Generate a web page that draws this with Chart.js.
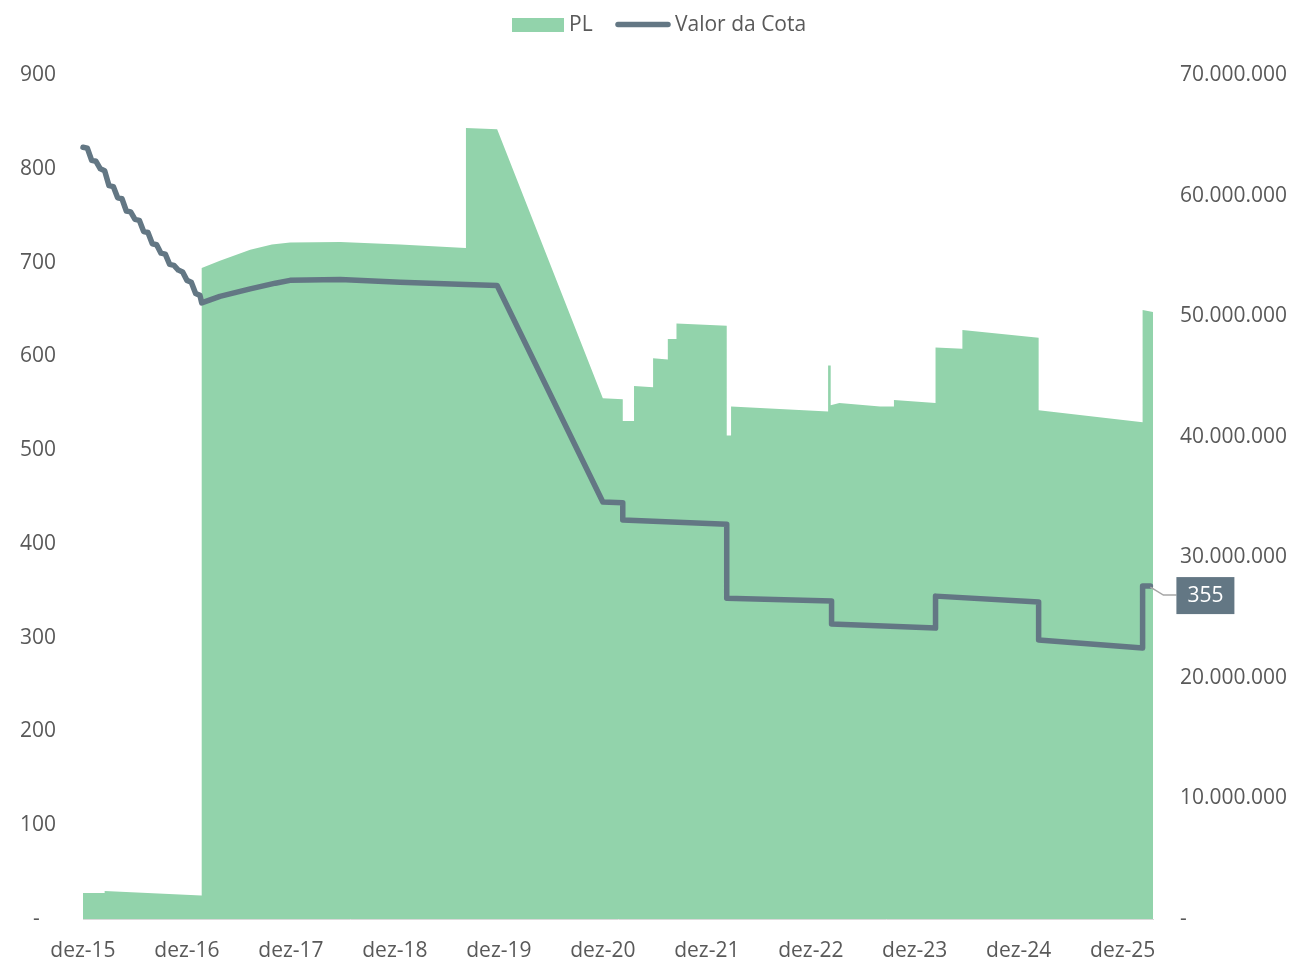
<!DOCTYPE html>
<html>
<head>
<meta charset="utf-8">
<script src="https://cdn.jsdelivr.net/npm/chart.js@4.4.1/dist/chart.umd.min.js"></script>
<style>
  body { margin: 0; background: #fff; }
</style>
</head>
<body>
<canvas id="myChart" width="1296" height="960"></canvas>
<script>
// eixo x: meses desde dez-15
const xTickMonths = [0, 12, 24, 36, 48, 60, 72, 84, 96, 108, 120];
const xTickLabels = ["dez-15", "dez-16", "dez-17", "dez-18", "dez-19", "dez-20", "dez-21", "dez-22", "dez-23", "dez-24", "dez-25"];

// PL (em milhoes de R$)
const plMonths = [0, 2.5, 2.5, 13.65, 13.7, 15.8, 19.3, 21.8, 23.9, 29.7, 36.6, 44.15, 44.2, 47.8, 60.0,
  62.3, 62.3, 63.6, 63.6, 65.8, 65.8, 67.5, 67.5, 68.5, 68.5, 74.3, 74.3, 74.8, 74.8, 86.0,
  86.0, 86.3, 86.3, 87.3, 92.0, 93.6, 93.6, 98.4, 98.4, 101.5, 101.5, 110.3, 110.3, 122.3, 122.3, 123.5];
const plValues = [2.15, 2.15, 2.32, 1.95, 54.0, 54.6, 55.5, 55.95, 56.1, 56.15, 55.95, 55.65, 65.6, 65.5, 43.2,
  43.1, 41.3, 41.3, 44.2, 44.1, 46.5, 46.4, 48.1, 48.1, 49.4, 49.2, 40.1, 40.1, 42.5, 42.1,
  45.9, 45.9, 42.6, 42.8, 42.5, 42.5, 43.05, 42.8, 47.4, 47.3, 48.85, 48.2, 42.2, 41.2, 50.5, 50.35];

// Valor da Cota
const cotaMonths = [0, 0.5, 1, 1.5, 2, 2.5, 3, 3.5, 4, 4.5, 5, 5.5, 6, 6.5, 7, 7.5, 8, 8.5, 9, 9.5,
  10, 10.5, 11, 11.5, 12, 12.5, 13, 13.5, 13.7, 15.8, 19.3, 22.2, 23.9, 29.7, 36.6, 44.2, 47.8,
  60.0, 62.3, 62.3, 74.3, 74.3, 86.4, 86.4, 98.4, 98.4, 110.3, 110.3, 122.3, 122.3, 123.2];
const cotaValues = [823, 822, 809, 808, 800, 798, 782, 781, 769, 768, 755, 754, 746, 745, 733, 732, 720, 719, 710, 709,
  698, 697, 692, 690, 681, 679, 667, 665, 657, 664, 672, 678, 681, 682, 679, 676.5, 675.5,
  444.6, 444, 425.4, 421, 342, 339, 314.5, 310.2, 344.3, 338, 297.4, 289, 355, 355];

const green = "#92D3AB";
const slate = "#637784";
const textGrey = "#595959";
const font = { family: "Open Sans", size: 21 };

function milhar(v) {
  if (v === 0) return "-";
  return Math.round(v).toString().replace(/\B(?=(\d{3})+(?!\d))/g, ".");
}

// legenda + rotulo do ultimo valor
const extras = {
  id: "extras",
  afterDraw(chart) {
    const ctx = chart.ctx;
    ctx.save();
    ctx.font = font.size + "px " + font.family;
    ctx.textBaseline = "middle";
    ctx.fillStyle = green;
    ctx.fillRect(512, 18, 52, 14);
    ctx.fillStyle = textGrey;
    ctx.textAlign = "left";
    ctx.fillText("PL", 569, 25);
    ctx.strokeStyle = slate;
    ctx.lineWidth = 5.5;
    ctx.lineCap = "round";
    ctx.beginPath();
    ctx.moveTo(618, 24.5);
    ctx.lineTo(668, 24.5);
    ctx.stroke();
    ctx.fillText("Valor da Cota", 675, 25);

    const meta = chart.getDatasetMeta(0);
    const pt = meta.data[meta.data.length - 1];
    ctx.strokeStyle = "#A6A6A6";
    ctx.lineWidth = 1.5;
    ctx.lineCap = "butt";
    ctx.beginPath();
    ctx.moveTo(pt.x, pt.y + 1);
    ctx.lineTo(pt.x + 13, pt.y + 9);
    ctx.lineTo(pt.x + 26, pt.y + 9);
    ctx.stroke();
    ctx.fillStyle = slate;
    ctx.fillRect(pt.x + 26, pt.y - 9, 58, 37);
    ctx.fillStyle = "#fff";
    ctx.textAlign = "center";
    ctx.fillText(String(cotaValues[cotaValues.length - 1]), pt.x + 55, pt.y + 10);
    ctx.restore();
  }
};

const ctx = document.getElementById("myChart");
const myChart = new Chart(ctx, {
  type: "line",
  data: {
    datasets: [
      {
        label: "Valor da Cota",
        data: cotaMonths.map((m, i) => ({ x: m, y: cotaValues[i] })),
        yAxisID: "y",
        borderColor: slate,
        borderWidth: 5.5,
        borderCapStyle: "round",
        borderJoinStyle: "round",
        pointRadius: 0,
        tension: 0,
        fill: false,
        clip: false
      },
      {
        label: "PL",
        data: plMonths.map((m, i) => ({ x: m, y: plValues[i] * 1000000 })),
        yAxisID: "y1",
        backgroundColor: green,
        borderColor: "rgba(0,0,0,0)",
        borderWidth: 0,
        pointRadius: 0,
        tension: 0,
        fill: "origin"
      }
    ]
  },
  options: {
    responsive: false,
    animation: false,
    devicePixelRatio: 1,
    layout: { padding: { top: 75, left: 0, right: 0, bottom: 0 } },
    plugins: {
      legend: { display: false },
      tooltip: { enabled: false }
    },
    scales: {
      x: {
        type: "linear",
        min: 0,
        max: 123.5,
        grid: { display: false },
        border: { display: true, color: "#D9D9D9", width: 1 },
        afterBuildTicks: s => { s.ticks = xTickMonths.map(v => ({ value: v })); },
        afterFit: s => { s.height = 41; },
        ticks: {
          color: textGrey,
          font: font,
          maxRotation: 0,
          autoSkip: false,
          padding: 11,
          callback: v => xTickLabels[xTickMonths.indexOf(v)]
        }
      },
      y: {
        position: "left",
        min: 0,
        max: 900,
        grid: { display: false },
        border: { display: false },
        afterFit: s => { s.width = 83; },
        ticks: {
          stepSize: 100,
          color: textGrey,
          font: font,
          padding: 19,
          callback: v => v === 0 ? "-   " : String(v)
        }
      },
      y1: {
        position: "right",
        min: 0,
        max: 70000000,
        grid: { display: false },
        border: { display: false },
        afterFit: s => { s.width = 143; },
        ticks: {
          stepSize: 10000000,
          color: textGrey,
          font: font,
          padding: 19,
          callback: v => milhar(v)
        }
      }
    }
  },
  plugins: [extras]
});
</script>
</body>
</html>
